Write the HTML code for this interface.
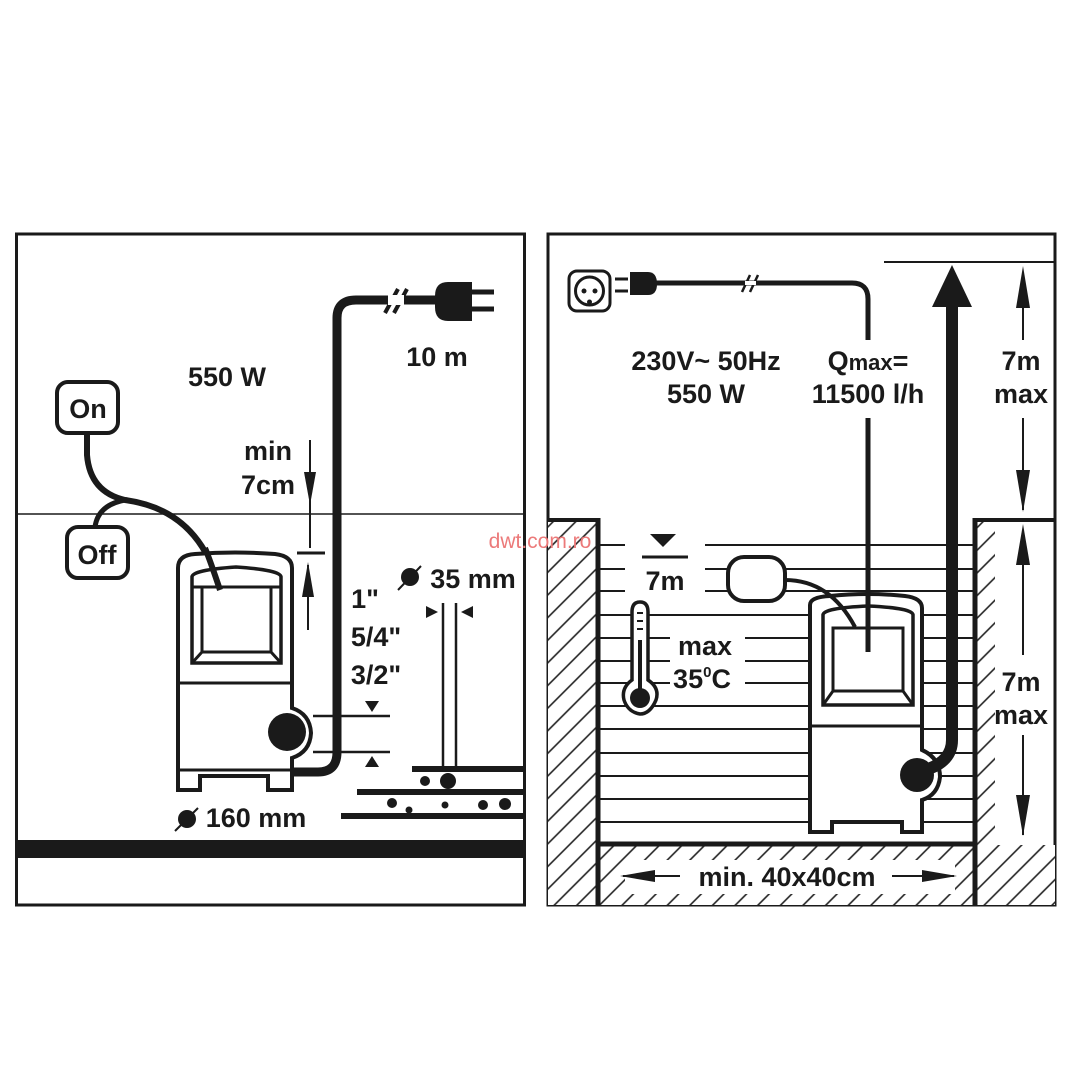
<!DOCTYPE html>
<html><head><meta charset="utf-8"><style>
html,body{margin:0;padding:0;background:#fff}
svg{display:block}
text{font-family:"Liberation Sans",sans-serif;font-weight:bold;fill:#1a1a1a}
</style></head><body>
<svg width="1080" height="1080" viewBox="0 0 1080 1080" xmlns="http://www.w3.org/2000/svg">
<defs>
<pattern id="h" patternUnits="userSpaceOnUse" width="16" height="16" patternTransform="rotate(-45)">
<rect width="16" height="16" fill="#fff"/><line x1="0" y1="8" x2="16" y2="8" stroke="#222" stroke-width="1.6"/>
</pattern>
<marker id="ar" markerWidth="10" markerHeight="10" refX="9" refY="5" orient="auto" markerUnits="userSpaceOnUse"><path d="M0,0 L10,5 L0,10 Z" fill="#1a1a1a"/></marker>
</defs>
<rect width="1080" height="1080" fill="#fff"/>
<g stroke="#1a1a1a" fill="none">
<!-- LEFT PANEL -->
<rect x="16.5" y="234" width="508" height="671" stroke-width="3"/>
<line x1="16" y1="514" x2="525" y2="514" stroke-width="1.5"/>
<rect x="16" y="840" width="509" height="18" fill="#1a1a1a" stroke="none"/>
<!-- cable -->
<path d="M290,772 H318 Q337,772 337,752 V318 Q337,300 356,300 H440" stroke-width="9"/>
<line x1="385" y1="313" x2="398" y2="289" stroke-width="4"/>
<line x1="394" y1="313" x2="407" y2="289" stroke-width="4"/>
<line x1="388" y1="300" x2="404" y2="300" stroke="#fff" stroke-width="10"/>
<path d="M448,282 H472 V321 H448 Q435,321 435,307 V296 Q435,282 448,282 Z" fill="#1a1a1a" stroke="none"/>
<line x1="470" y1="292" x2="494" y2="292" stroke-width="5"/>
<line x1="470" y1="309" x2="494" y2="309" stroke-width="5"/>
<!-- On/Off -->
<rect x="57" y="382" width="61" height="51" rx="11" stroke-width="4"/>
<rect x="67" y="527" width="61" height="51" rx="11" stroke-width="4"/>
<path d="M87,433 V455 Q90,492 125,500 Q200,510 220,590" stroke-width="6"/>
<path d="M95,527 Q98,505 125,500" stroke-width="5"/>
<!-- pump left -->
<path d="M178,790 V568 Q178,555 195,554 Q235,551 275,554 Q292,556 292,568 V708 Q310,714 311,733 Q310,752 292,758 V790 H268 V776 H200 V790 Z" stroke-width="4" fill="#fff"/>
<path d="M192,663 V577 Q192,570 236,567 Q281,570 281,577 V663 Z" stroke-width="3.5"/>
<rect x="202" y="587" width="69" height="65" stroke-width="3"/>
<line x1="192" y1="587" x2="202" y2="587" stroke-width="3"/><line x1="271" y1="587" x2="281" y2="587" stroke-width="3"/>
<line x1="192" y1="663" x2="202" y2="652" stroke-width="3"/><line x1="281" y1="663" x2="271" y2="652" stroke-width="3"/>
<line x1="178" y1="683" x2="292" y2="683" stroke-width="3"/>
<line x1="178" y1="770" x2="292" y2="770" stroke-width="3"/>
<circle cx="287" cy="732" r="19" fill="#1a1a1a" stroke="none"/>
<path d="M220,590 Q210,560 205,548" stroke-width="6"/>
<!-- dims -->
<line x1="310" y1="440" x2="310" y2="548" stroke-width="2"/>
<path d="M304,472 L316,472 L310,505 Z" fill="#1a1a1a" stroke="none"/>
<line x1="297" y1="553" x2="325" y2="553" stroke-width="3"/>
<line x1="308" y1="565" x2="308" y2="630" stroke-width="2"/>
<path d="M302,597 L314,597 L308,562 Z" fill="#1a1a1a" stroke="none"/>
<line x1="313" y1="716" x2="390" y2="716" stroke-width="2.5"/>
<line x1="313" y1="752" x2="390" y2="752" stroke-width="2.5"/>
<path d="M365,701 L379,701 L372,712 Z" fill="#1a1a1a" stroke="none"/>
<path d="M365,767 L379,767 L372,756 Z" fill="#1a1a1a" stroke="none"/>
<line x1="443" y1="603" x2="443" y2="770" stroke-width="2.5"/>
<line x1="456" y1="603" x2="456" y2="770" stroke-width="2.5"/>
<path d="M426,606 L438,612 L426,618 Z" fill="#1a1a1a" stroke="none"/>
<path d="M473,606 L461,612 L473,618 Z" fill="#1a1a1a" stroke="none"/>
<line x1="412" y1="769" x2="524" y2="769" stroke-width="6"/>
<line x1="357" y1="792" x2="524" y2="792" stroke-width="6"/>
<line x1="341" y1="816" x2="524" y2="816" stroke-width="6"/>
</g>
<g fill="#1a1a1a">
<circle cx="425" cy="781" r="5"/><circle cx="448" cy="781" r="8"/>
<circle cx="392" cy="803" r="5"/><circle cx="409" cy="810" r="3.5"/><circle cx="445" cy="805" r="3.5"/><circle cx="483" cy="805" r="5"/><circle cx="505" cy="804" r="6"/>
<circle cx="187" cy="819" r="9"/><circle cx="410" cy="577" r="9"/>
</g>
<g stroke="#1a1a1a" stroke-width="2"><line x1="175" y1="831" x2="198" y2="808"/><line x1="398" y1="590" x2="421" y2="566"/></g>
<g font-size="27" text-anchor="middle">
<text x="227" y="386">550 W</text>
<text x="437" y="366">10 m</text>
<text x="88" y="418">On</text>
<text x="97" y="564">Off</text>
<text x="268" y="460">min</text>
<text x="268" y="494">7cm</text>
<text x="365" y="608" >1"</text>
<text x="376" y="646">5/4"</text>
<text x="376" y="684">3/2"</text>
<text x="473" y="588">35 mm</text>
<text x="256" y="827">160 mm</text>
</g>

<!-- RIGHT PANEL -->
<g stroke="#1a1a1a" fill="none">
<rect x="548" y="234" width="507" height="671" stroke-width="3"/>
<line x1="884" y1="262" x2="1055" y2="262" stroke-width="2"/>
<rect x="548" y="520" width="50" height="385" fill="url(#h)" stroke="none"/>
<rect x="598" y="845" width="457" height="60" fill="url(#h)" stroke="none"/>
<rect x="975" y="520" width="20" height="325" fill="url(#h)" stroke="none"/>
<rect x="625" y="860" width="330" height="34" fill="#fff" stroke="none"/>
<line x1="548" y1="520" x2="600" y2="520" stroke-width="4"/>
<line x1="973" y1="520" x2="1055" y2="520" stroke-width="4"/>
<line x1="598" y1="518" x2="598" y2="905" stroke-width="5"/>
<line x1="975" y1="518" x2="975" y2="905" stroke-width="5"/>
<line x1="596" y1="844" x2="977" y2="844" stroke-width="5"/>
<g stroke-width="2">
<line x1="600" y1="545" x2="625" y2="545"/><line x1="705" y1="545" x2="975" y2="545"/>
<line x1="600" y1="569" x2="625" y2="569"/><line x1="705" y1="569" x2="975" y2="569"/>
<line x1="600" y1="591" x2="625" y2="591"/><line x1="705" y1="591" x2="975" y2="591"/>
<line x1="600" y1="615" x2="975" y2="615"/>
<line x1="600" y1="638" x2="670" y2="638"/><line x1="745" y1="638" x2="975" y2="638"/>
<line x1="600" y1="661" x2="670" y2="661"/><line x1="745" y1="661" x2="975" y2="661"/>
<line x1="600" y1="683" x2="670" y2="683"/><line x1="745" y1="683" x2="975" y2="683"/>
<line x1="600" y1="706" x2="975" y2="706"/>
<line x1="600" y1="729" x2="975" y2="729"/>
<line x1="600" y1="753" x2="975" y2="753"/>
<line x1="600" y1="776" x2="975" y2="776"/>
<line x1="600" y1="799" x2="975" y2="799"/>
<line x1="600" y1="822" x2="975" y2="822"/>
</g>
<rect x="728" y="557" width="57" height="44" rx="16" fill="#fff" stroke-width="4"/>
<!-- thermometer -->
<path d="M632,680 V612 Q632,602 640,602 Q648,602 648,612 V680 Q660,688 656,700 Q650,714 640,714 Q628,712 624,700 Q621,688 632,680 Z" fill="#fff" stroke-width="3.5"/>
<!-- pump right -->
<path d="M810,832 V605 Q810,597 830,596 Q868,592 905,596 Q922,598 922,608 V750 Q940,758 940,777 Q938,795 922,800 V832 H902 V822 H832 V832 Z" fill="#fff" stroke-width="4"/>
<path d="M823,705 V615 Q823,608 868,606 Q913,608 913,615 V705 Z" stroke-width="3.5"/>
<rect x="833" y="628" width="70" height="63" stroke-width="3"/>
<line x1="823" y1="705" x2="833" y2="691" stroke-width="3"/><line x1="913" y1="705" x2="903" y2="691" stroke-width="3"/>
<line x1="810" y1="726" x2="922" y2="726" stroke-width="3"/>
<path d="M785,580 Q830,580 855,627" stroke-width="4"/>
<path d="M925,770 Q952,762 952,740 V300" stroke-width="12"/>
<!-- power cable -->
<path d="M640,283 H852 Q868,283 868,299 V340" stroke-width="5"/>
<line x1="868" y1="418" x2="868" y2="652" stroke-width="5"/>
<line x1="742" y1="292" x2="750" y2="275" stroke-width="2.5"/><line x1="750" y1="292" x2="758" y2="275" stroke-width="2.5"/>
<line x1="745" y1="283" x2="756" y2="283" stroke="#fff" stroke-width="4"/>
<rect x="569" y="271" width="41" height="40" rx="8" stroke-width="3"/>
<circle cx="589.5" cy="291" r="14" stroke-width="3"/>
<line x1="615" y1="279" x2="628" y2="279" stroke-width="3"/><line x1="615" y1="291" x2="628" y2="291" stroke-width="3"/>
<!-- dims right -->
<line x1="1023" y1="280" x2="1023" y2="340" stroke-width="2"/>
<line x1="1023" y1="418" x2="1023" y2="510" stroke-width="2"/>
<line x1="1023" y1="535" x2="1023" y2="655" stroke-width="2"/>
<line x1="1023" y1="735" x2="1023" y2="835" stroke-width="2"/>
<line x1="623" y1="876" x2="680" y2="876" stroke-width="2"/>
<line x1="892" y1="876" x2="954" y2="876" stroke-width="2"/>
<line x1="642" y1="557" x2="688" y2="557" stroke-width="3"/>
</g>
<g fill="#1a1a1a">
<path d="M1016,308 L1030,308 L1023,266 Z"/><path d="M1016,470 L1030,470 L1023,512 Z"/>
<path d="M1016,565 L1030,565 L1023,524 Z"/><path d="M1016,795 L1030,795 L1023,836 Z"/>
<path d="M620,876 L655,870 L655,882 Z"/><path d="M957,876 L922,870 L922,882 Z"/>
<path d="M650,534 L676,534 L663,547 Z"/>
<path d="M932,307 L972,307 L952,265 Z"/>
<circle cx="917" cy="775" r="17"/>
<circle cx="640" cy="698" r="10"/>
<rect x="638" y="640" width="4" height="50"/>
<rect x="637" y="612" width="6" height="2"/><rect x="637" y="620" width="6" height="2"/><rect x="637" y="628" width="6" height="2"/>
<path d="M625,279 H643 Q652,279 652,291 Q652,302 643,302 H625 Z" transform="translate(5,-7)"/>
<circle cx="584" cy="291" r="2.5"/><circle cx="595" cy="291" r="2.5"/><circle cx="589.5" cy="302" r="2.5"/>
</g>
<g font-size="27" text-anchor="middle">
<text x="706" y="370">230V~ 50Hz</text>
<text x="706" y="403">550 W</text>
<text x="868" y="370">Q<tspan font-size="22">max</tspan>=</text>
<text x="868" y="403">11500 l/h</text>
<text x="1021" y="370">7m</text>
<text x="1021" y="403">max</text>
<text x="1021" y="691">7m</text>
<text x="1021" y="724">max</text>
<text x="665" y="590">7m</text>
<text x="705" y="655">max</text>
<text x="702" y="688">35<tspan font-size="15" dy="-11">0</tspan><tspan dy="11">C</tspan></text>
<text x="787" y="886">min. 40x40cm</text>
</g>
<text x="540" y="548" font-size="21" text-anchor="middle" style="font-weight:normal;fill:#ec7a7a">dwt.com.ro</text>
</svg>
</body></html>
